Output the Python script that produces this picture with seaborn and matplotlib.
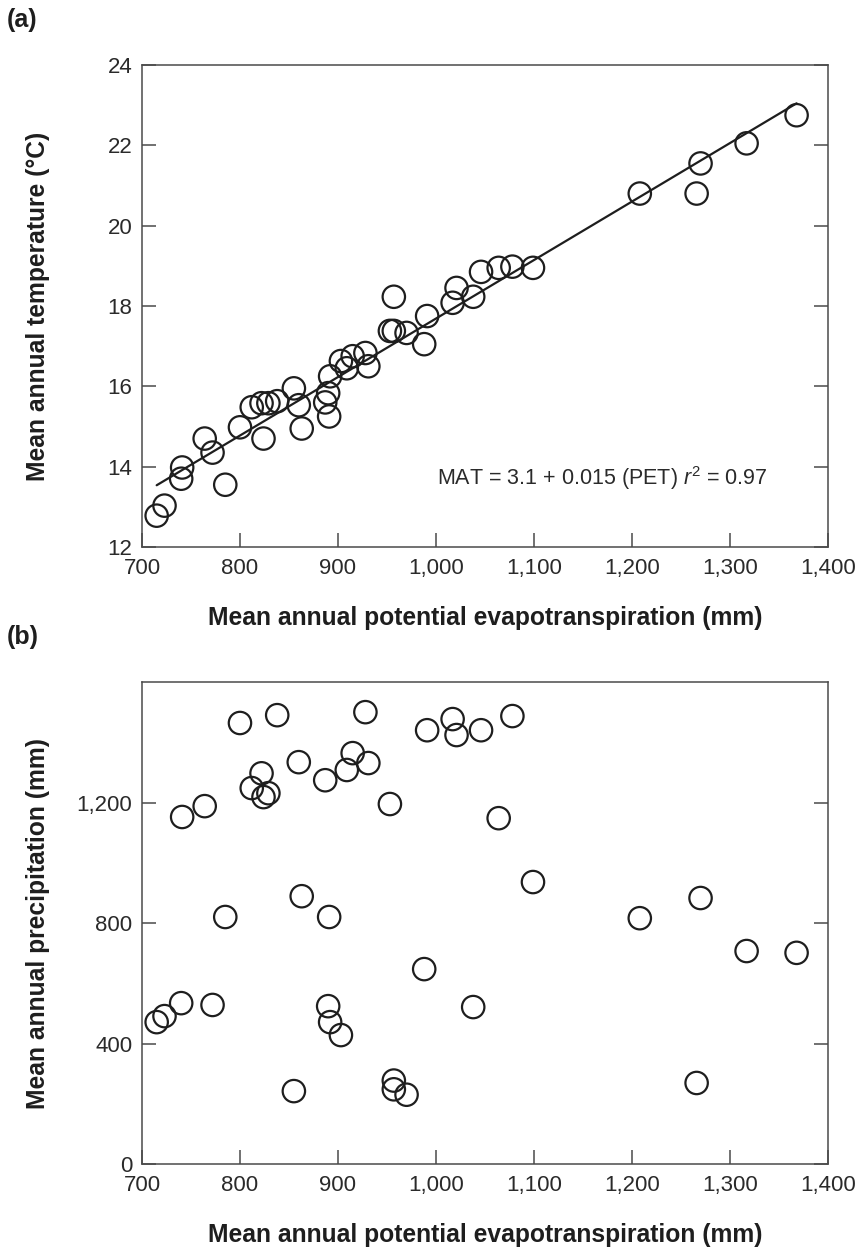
import numpy as np
import pandas as pd
import matplotlib
matplotlib.use("Agg")
import matplotlib.pyplot as plt
import matplotlib.ticker as mticker
import seaborn as sns

# ---- data ----
pet = [715, 723, 740, 741, 764, 772, 785, 800, 812, 822, 824, 829, 838, 855,
       860, 863, 887, 890, 891, 892, 903, 909, 915, 928, 931, 953, 957, 957,
       970, 988, 991, 1017, 1021, 1038, 1046, 1064, 1078, 1099, 1208, 1266,
       1270, 1317, 1368]
mat = [12.78, 13.03, 13.70, 13.98, 14.70, 14.35, 13.55, 14.98, 15.48, 15.58,
       14.70, 15.58, 15.63, 15.95, 15.53, 14.95, 15.60, 15.83, 15.25, 16.25,
       16.63, 16.45, 16.75, 16.83, 16.50, 17.38, 17.38, 18.23, 17.33, 17.05,
       17.75, 18.08, 18.45, 18.23, 18.85, 18.95, 18.98, 18.95, 20.80, 20.80,
       21.55, 22.05, 22.75]
map_mm = [471, 491, 534, 1152, 1188, 528, 820, 1464, 1248, 1297, 1218, 1231,
          1490, 242, 1334, 889, 1274, 524, 820, 471, 428, 1308, 1364, 1500,
          1331, 1195, 248, 277, 230, 647, 1440, 1477, 1424, 521, 1440, 1148,
          1487, 936, 816, 269, 883, 707, 701]

x_ticks = [700, 800, 900, 1000, 1100, 1200, 1300, 1400]
mat_ticks = [12, 14, 16, 18, 20, 22, 24]
map_ticks = [0, 400, 800, 1200]

df = pd.DataFrame({"PET": pet, "MAT": mat, "MAP": map_mm})

sns.set_theme(style="ticks")
plt.rcParams["font.family"] = ["Liberation Sans", "DejaVu Sans"]
plt.rcParams["mathtext.fontset"] = "custom"
plt.rcParams["mathtext.rm"] = "Liberation Sans"
plt.rcParams["mathtext.it"] = "Liberation Sans:italic"

ink = "#1e1e1e"
spine_col = "#4a4a4a"

fig = plt.figure(figsize=(8.61, 12.48), dpi=100)
ax1 = fig.add_axes([0.1649, 0.5617, 0.7967, 0.3862])
ax2 = fig.add_axes([0.1649, 0.0673, 0.7967, 0.3862])

# (a) temperature vs PET with fitted line
sns.regplot(data=df, x="PET", y="MAT", ax=ax1, scatter=False, ci=None,
            line_kws={"color": ink, "lw": 1.6})
sns.scatterplot(data=df, x="PET", y="MAT", ax=ax1, s=260, marker="o",
                facecolors="none", edgecolor=ink, linewidth=1.6, zorder=3)
ax1.set_ylim(12, 24)
ax1.set_yticks(mat_ticks)
ax1.set_ylabel("Mean annual temperature (°C)")
ax1.text(1001, 13.72, r"MAT = 3.1 + 0.015 (PET) $r^2$ = 0.97",
         ha="left", va="center", fontsize=15.5, color="#2a2a2a")

# (b) precipitation vs PET
sns.scatterplot(data=df, x="PET", y="MAP", ax=ax2, s=260, marker="o",
                facecolors="none", edgecolor=ink, linewidth=1.6, zorder=3)
ax2.set_ylim(0, 1600)
ax2.set_yticks(map_ticks)
ax2.set_ylabel("Mean annual precipitation (mm)")

for ax in (ax1, ax2):
    ax.set_xlim(700, 1400)
    ax.set_xticks(x_ticks)
    ax.xaxis.set_major_formatter(mticker.StrMethodFormatter("{x:,.0f}"))
    ax.yaxis.set_major_formatter(mticker.StrMethodFormatter("{x:,.0f}"))
    ax.set_xlabel("Mean annual potential evapotranspiration (mm)")
    for s in ax.spines.values():
        s.set_visible(True)
        s.set_color(spine_col)
        s.set_linewidth(1.1)
    ax.tick_params(axis="both", direction="in", length=10, width=1.1,
                   color=spine_col, labelsize=16, labelcolor="#2a2a2a")
    ax.tick_params(axis="y", right=True, left=True, pad=7)
    ax.tick_params(axis="x", top=False, pad=8)
    ax.xaxis.label.set_fontsize(17.7)
    ax.xaxis.label.set_fontweight("heavy")
    ax.xaxis.label.set_va("center")
    ax.xaxis.set_label_coords(0.5, -0.147)
    ax.yaxis.label.set_fontsize(17.7)
    ax.yaxis.label.set_fontweight("heavy")
    ax.yaxis.label.set_va("center")
    ax.yaxis.set_label_coords(-0.1516, 0.5)
    ax.xaxis.label.set_color(ink)
    ax.yaxis.label.set_color(ink)

fig.text(0.008, 0.984, "(a)", fontsize=18, fontweight="bold", color=ink,
         ha="left", va="center")
fig.text(0.008, 0.4896, "(b)", fontsize=18, fontweight="bold", color=ink,
         ha="left", va="center")

fig.savefig("out.png", dpi=100, facecolor="white")
